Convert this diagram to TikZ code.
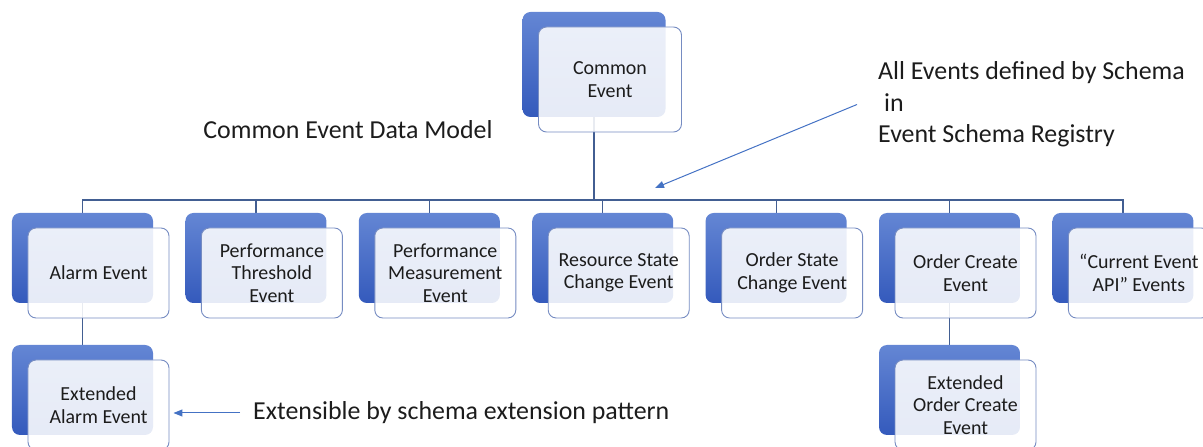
\documentclass[tikz,border=0pt]{standalone}
\usepackage{fontspec}
\setmainfont{Carlito}
\usetikzlibrary{calc,backgrounds,arrows.meta}
\definecolor{boxtop}{RGB}{100,134,212}
\definecolor{boxbottom}{RGB}{52,90,188}
\definecolor{boxedge}{RGB}{118,140,194}
\definecolor{treeblue}{RGB}{66,94,146}
\definecolor{noteblue}{RGB}{68,114,196}
\definecolor{inktext}{RGB}{28,28,28}
\tikzset{
  event back/.style={rounded corners=8bp, minimum width=141bp, minimum height=90bp,
        top color=boxtop, bottom color=boxbottom, draw=none, inner sep=0},
  event front/.style={rounded corners=8bp, minimum width=141bp, minimum height=90bp,
        draw=boxedge, line width=0.9bp, fill=white, fill opacity=0.88, text opacity=1,
        align=center, font=\fontsize{20}{22.5}\selectfont, text=inktext, inner sep=0},
  tree line/.style={draw=treeblue, line width=1.2bp},
  note/.style={font=\fontsize{26}{31.5}\selectfont, text=inktext, inner sep=0, align=left},
  note arrow/.style={draw=noteblue, line width=1bp, -{Triangle[length=9bp,width=7bp]}}
}
% name, x, y (centre of the blue box), text
\def\EventBox#1#2#3#4{%
  \node[event back] (#1) at (#2,#3) {};
  \node[event front] (#1-f) at ($(#1)+(16,-15)$) {#4};
}

\begin{document}
\begin{tikzpicture}[x=1bp, y=1bp]
\useasboundingbox (0,0) rectangle (1203,-447);

\node[event back, minimum width=143bp, minimum height=105bp] (common) at (594,-64.5) {};
\node[event front, minimum width=143bp, minimum height=105bp] (common-f) at ($(common)+(16,-15)$) {Common\\Event};

\EventBox{alarm}{82.5}{-258}{Alarm Event}
\EventBox{perfthr}{255.9}{-258}{Performance\\Threshold\\Event}
\EventBox{perfmeas}{429.3}{-258}{Performance\\Measurement\\Event}
\EventBox{resstate}{602.7}{-258}{Resource State\\Change Event}
\EventBox{ordstate}{776.1}{-258}{Order State\\Change Event}
\EventBox{ordcreate}{949.5}{-258}{Order Create\\Event}
\EventBox{curevent}{1122.9}{-258}{“Current Event\\API” Events}

\EventBox{extalarm}{82.5}{-390}{Extended\\Alarm Event}
\EventBox{extorder}{949.5}{-390}{Extended\\Order Create\\Event}

\coordinate (bus) at (0,-200);
\begin{pgfonlayer}{background}
  \foreach \ev in {alarm,perfthr,perfmeas,resstate,ordstate,ordcreate,curevent}
    \draw[tree line] (common.south) -- (common.south |- bus) -| (\ev.north);
  \draw[tree line] (alarm.south) -- (extalarm.north);
  \draw[tree line] (ordcreate.south) -- (extorder.north);
\end{pgfonlayer}

\node[note] (modelnote) at (348,-130) {Common Event Data Model};
\node[note, anchor=west] (schemanote) at (878,-104.5)
  {All Events defined by Schema\\\hspace*{0.23em}in\\Event Schema Registry};
\node[note, anchor=west] (extnote) at (253,-413) {Extensible by schema extension pattern};

\coordinate (schematip) at (655,-188);
\draw[note arrow] ([xshift=-21bp]schemanote.west) -- (schematip);
\draw[note arrow] ([xshift=-13bp]extnote.west) -- ([xshift=4bp]extnote.west -| extalarm-f.east);
\end{tikzpicture}
\end{document}
